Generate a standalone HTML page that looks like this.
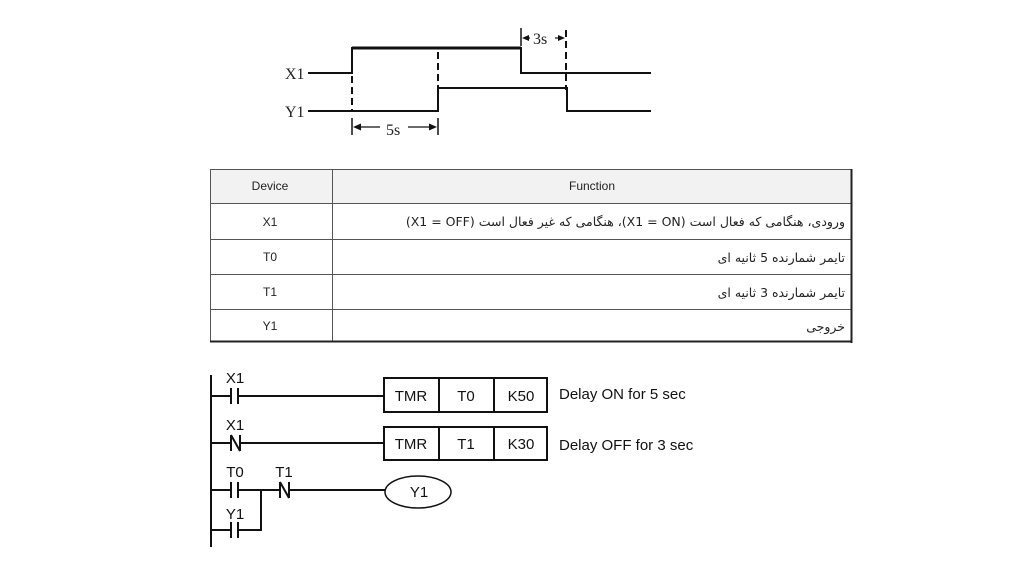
<!DOCTYPE html>
<html><head><meta charset="utf-8"><style>
html,body{margin:0;padding:0;background:#fff;}
svg{display:block;}
.s{font-family:"Liberation Serif",serif;font-size:16px;fill:#222;}
.a{font-family:"Liberation Sans",Arial,sans-serif;fill:#111;}
.t{font-family:"Liberation Sans","DejaVu Sans",sans-serif;font-size:12px;fill:#222;}
.fa{font-family:"DejaVu Sans","Liberation Sans",sans-serif;font-size:12.5px;fill:#222;}
</style></head><body>
<svg width="1024" height="576" viewBox="0 0 1024 576" xmlns="http://www.w3.org/2000/svg">
<!-- timing -->
<g stroke="#111" fill="none">
<polyline points="308,73 352,73 352,48 521,48 521,73 651,73" stroke-width="2"/>
<line x1="352" y1="48" x2="521" y2="48" stroke-width="3"/>
<polyline points="308,111 438,111 438,88 567,88 567,111 651,111" stroke-width="2"/>
<g stroke-dasharray="7,4" stroke-width="2">
<line x1="352" y1="76" x2="352" y2="112"/>
<line x1="438" y1="52" x2="438" y2="88"/>
<line x1="566" y1="30" x2="566" y2="90"/>
</g>
<line x1="352" y1="118" x2="352" y2="135" stroke-width="1.5"/>
<line x1="438" y1="118" x2="438" y2="135" stroke-width="1.5"/>
<line x1="521" y1="28" x2="521" y2="46" stroke-width="1.5"/>
<line x1="358" y1="127" x2="380" y2="127" stroke-width="1.2"/>
<line x1="408" y1="127" x2="432" y2="127" stroke-width="1.2"/>
<line x1="526" y1="38" x2="530" y2="38" stroke-width="1.2"/>
<line x1="555" y1="38" x2="560" y2="38" stroke-width="1.2"/>
</g>
<g fill="#111">
<path d="M353,127 L361,123.5 L361,130.5z"/>
<path d="M437,127 L429,123.5 L429,130.5z"/>
<path d="M522,38 L529,35 L529,41z"/>
<path d="M565,38 L558,35 L558,41z"/>
</g>
<text class="s" x="285" y="79">X1</text>
<text class="s" x="285" y="117">Y1</text>
<text class="s" x="386" y="135">5s</text>
<text class="s" x="533" y="44">3s</text>
<!-- table -->
<rect x="210.5" y="169.5" width="641" height="34" fill="#f2f2f2"/>
<g stroke="#555" stroke-width="1" fill="none">
<rect x="210.5" y="169.5" width="641" height="172"/>
<line x1="332.5" y1="169" x2="332.5" y2="342"/>
<line x1="210" y1="203.5" x2="852" y2="203.5"/>
<line x1="210" y1="239.5" x2="852" y2="239.5"/>
<line x1="210" y1="274.5" x2="852" y2="274.5"/>
<line x1="210" y1="309.5" x2="852" y2="309.5"/>
</g>
<line x1="851.5" y1="169" x2="851.5" y2="343" stroke="#222" stroke-width="2"/>
<line x1="210" y1="341.5" x2="852" y2="341.5" stroke="#222" stroke-width="2"/>
<text class="t" x="270" y="190" text-anchor="middle">Device</text>
<text class="t" x="592" y="190" text-anchor="middle">Function</text>
<text class="t" x="270" y="226" text-anchor="middle">X1</text>
<text class="t" x="270" y="261" text-anchor="middle">T0</text>
<text class="t" x="270" y="296" text-anchor="middle">T1</text>
<text class="t" x="270" y="330" text-anchor="middle">Y1</text>
<text class="fa" x="845" y="226" text-anchor="start" direction="rtl">ورودی، هنگامی که فعال است (X1 = ON)، هنگامی که غیر فعال است (X1 = OFF)</text>
<text class="fa" x="845" y="262" text-anchor="start" direction="rtl">تایمر شمارنده 5 ثانیه ای</text>
<text class="fa" x="845" y="297" text-anchor="start" direction="rtl">تایمر شمارنده  3 ثانیه ای</text>
<text class="fa" x="845" y="331" text-anchor="start" direction="rtl">خروجی</text>
<!-- ladder -->
<g stroke="#111" fill="none" stroke-width="2">
<line x1="211" y1="375" x2="211" y2="547"/>
<line x1="211" y1="396" x2="231" y2="396"/><line x1="238" y1="396" x2="384" y2="396"/>
<line x1="231" y1="388" x2="231" y2="404"/><line x1="238" y1="388" x2="238" y2="404"/>
<line x1="211" y1="443" x2="231" y2="443"/><line x1="240" y1="443" x2="384" y2="443"/>
<path d="M231,435 L231,451 M240,435 L240,451 M231,435 L240,451"/>
<line x1="211" y1="490" x2="231" y2="490"/><line x1="238" y1="490" x2="280" y2="490"/>
<line x1="231" y1="482" x2="231" y2="498"/><line x1="238" y1="482" x2="238" y2="498"/>
<path d="M280,482 L280,498 M289,482 L289,498 M280,482 L289,498"/>
<line x1="289" y1="490" x2="385" y2="490"/>
<line x1="211" y1="530" x2="231" y2="530"/><line x1="238" y1="530" x2="261" y2="530"/>
<line x1="231" y1="522" x2="231" y2="538"/><line x1="238" y1="522" x2="238" y2="538"/>
<line x1="261" y1="490" x2="261" y2="531"/>
<rect x="384" y="378" width="163" height="34"/>
<line x1="439" y1="378" x2="439" y2="412"/><line x1="494" y1="378" x2="494" y2="412"/>
<rect x="384" y="427" width="163" height="33"/>
<line x1="439" y1="427" x2="439" y2="460"/><line x1="494" y1="427" x2="494" y2="460"/>
<ellipse cx="418" cy="492" rx="33" ry="16" stroke-width="1.5"/>
</g>
<g class="a" font-size="15">
<text x="235" y="383" text-anchor="middle">X1</text>
<text x="235" y="430" text-anchor="middle">X1</text>
<text x="235" y="477" text-anchor="middle">T0</text>
<text x="284" y="477" text-anchor="middle">T1</text>
<text x="235" y="519" text-anchor="middle">Y1</text>
<text x="411" y="401" text-anchor="middle">TMR</text>
<text x="466" y="401" text-anchor="middle">T0</text>
<text x="521" y="401" text-anchor="middle">K50</text>
<text x="411" y="449" text-anchor="middle">TMR</text>
<text x="466" y="449" text-anchor="middle">T1</text>
<text x="521" y="449" text-anchor="middle">K30</text>
<text x="419" y="497" text-anchor="middle">Y1</text>
<text x="559" y="399">Delay ON for 5 sec</text>
<text x="559" y="450">Delay OFF for 3 sec</text>
</g>
</svg>
</body></html>
